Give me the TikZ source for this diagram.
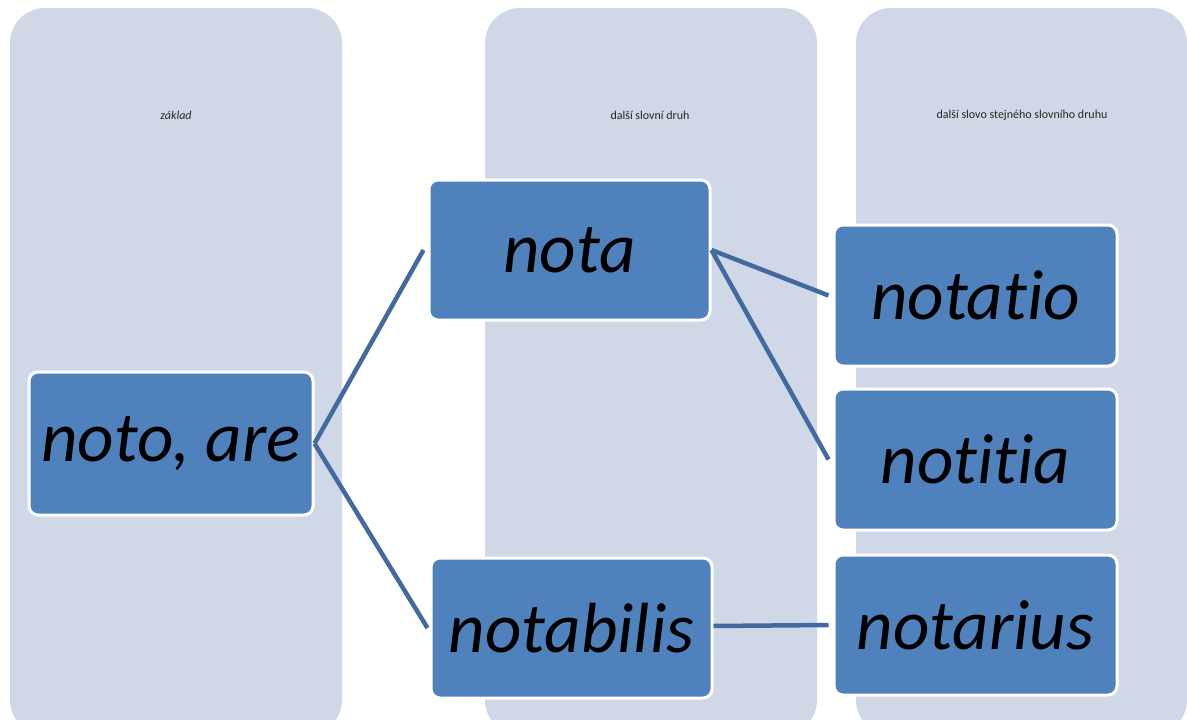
\documentclass[tikz,border=0pt]{standalone}
\usepackage{fontspec}
\setmainfont[Ligatures={NoCommon}]{Carlito}
\definecolor{colbg}{RGB}{208,216,232}
\definecolor{boxfill}{RGB}{79,129,189}
\definecolor{linkc}{RGB}{66,106,160}
\begin{document}
\begin{tikzpicture}[x=1pt,y=-1pt,
  column/.style={fill=colbg,rounded corners=35pt},
  wordbox/.style={draw=white,line width=3pt,fill=boxfill,rounded corners=9pt,inner sep=0pt},
  word/.style={font=\fontsize{71}{71}\selectfont\itshape,text=black},
  header/.style={font=\fontsize{12}{12}\selectfont,text=black!85},
  link/.style={draw=linkc,line width=4.5pt}]
\useasboundingbox (0,0) rectangle (1187,720);
\begin{scope}
\clip (0,0) rectangle (1187,720);
\fill[column] (10,8) rectangle (342,735);
\fill[column] (485,8) rectangle (817,735);
\fill[column] (856,8) rectangle (1187,735);
\end{scope}
\node[header,font=\fontsize{12}{12}\selectfont\itshape] (h1) at (176,115) {základ};
\node[header] (h2) at (650,115) {další slovní druh};
\node[header] (h3) at (1022,115) {další slovo stejného slovního druhu};
% boxes
\node[wordbox,minimum width=284pt,minimum height=143pt] (b1) at (171,443.5) {};
\node[word] at (b1.center) {noto, are};
\node[wordbox,minimum width=281pt,minimum height=140pt] (b2) at (569.5,250) {};
\node[word] at (b2.center) {nota};
\node[wordbox,minimum width=281pt,minimum height=140pt] (b3) at (571.5,628) {};
\node[word] at (b3.center) {notabilis};
\node[wordbox,minimum width=283pt,minimum height=141pt] (b4) at (975.5,295.5) {};
\node[word] at (b4.center) {notatio};
\node[wordbox,minimum width=283pt,minimum height=141pt] (b5) at (975.5,459.5) {};
\node[word] at (b5.center) {notitia};
\node[wordbox,minimum width=283pt,minimum height=140pt] (b6) at (975.5,625) {};
\node[word] at (b6.center) {notarius};
% links
\draw[link] (b1.east) -- ([xshift=-4pt]b2.west);
\draw[link] (b1.east) -- ([xshift=-2pt]b3.west);
\draw[link] (b2.east) -- ([xshift=-4pt]b4.west);
\draw[link] (b2.east) -- ([xshift=-4pt]b5.west);
\draw[link] ([yshift=2pt]b3.east) -- ([xshift=-4pt]b6.west);
\end{tikzpicture}
\end{document}
